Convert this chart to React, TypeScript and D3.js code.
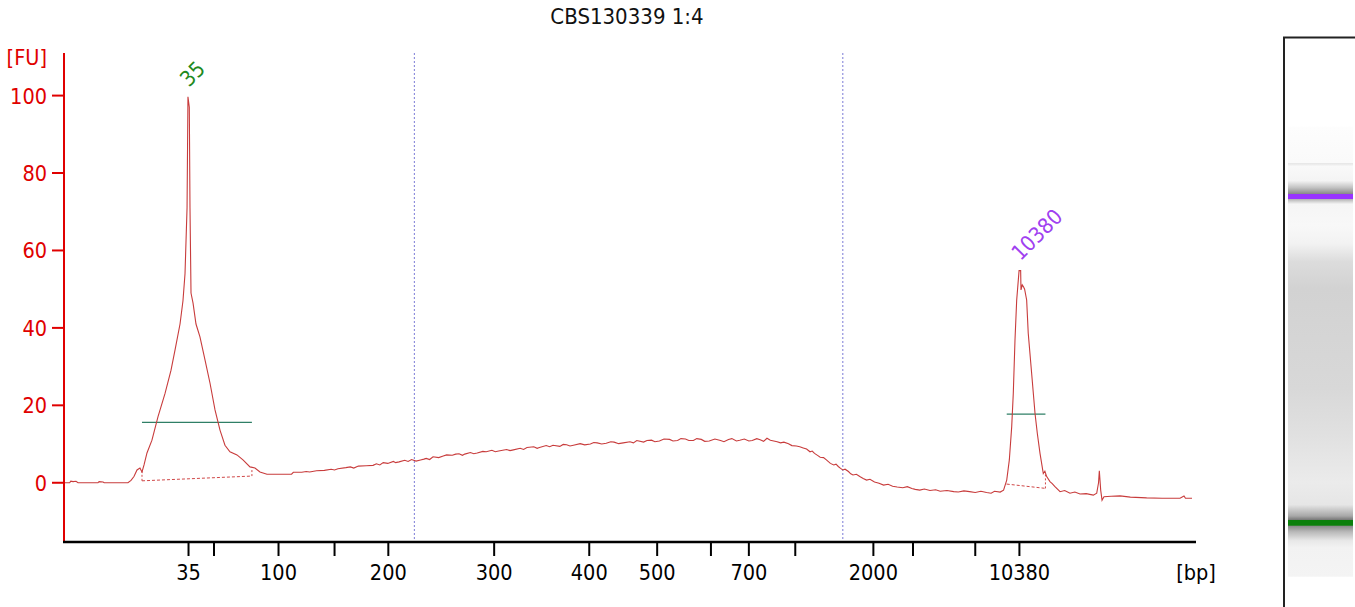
import * as d3 from 'd3'

// Electropherogram of sample CBS130339 1:4 (Bioanalyzer-style), x in migration time (s)
const title = 'CBS130339 1:4'

// ladder positions on the time axis and their size labels (bp); empty = unlabeled tick
const ladderTimes = [31.0, 33.25, 38.95, 43.9, 48.65, 58.0, 66.4, 72.4, 77.15, 80.5, 84.6, 91.5, 95.0, 100.5, 104.4]
const ladderLabels = ['35', '', '100', '', '200', '300', '400', '500', '', '700', '', '2000', '', '', '10380']
const fuTicks = [0, 20, 40, 60, 80, 100]

// region boundaries (dotted)
const regionTimes = [50.95, 88.8]

// trace: [time s, FU]
const trace: [number, number][] = [
  [20.0, 0], [20.5, 0], [20.6, 0.4], [20.8, 0.3], [21.06, 0.4], [21.24, 0], [23.0, 0], [23.1, 0.3],
  [23.45, 0.2], [23.55, 0], [25.65, 0], [25.92, 0.6], [26.18, 1.6], [26.45, 3.3], [26.71, 3.8],
  [26.89, 2.8], [27.07, 4.6], [27.33, 7.7], [27.77, 11.0], [28.3, 17.0], [28.92, 23.0], [29.45, 29.0],
  [29.81, 34.3], [30.25, 41.0], [30.51, 47.0], [30.69, 54.0], [30.87, 71.0], [30.95, 99.7],
  [31.07, 97.0], [31.13, 71.0], [31.22, 49.0], [31.4, 46.4], [31.66, 41.0], [32.01, 37.7],
  [32.46, 31.7], [32.9, 25.7], [33.34, 18.8], [33.78, 13.6], [34.22, 9.7], [34.66, 8.0],
  [35.28, 7.2], [35.81, 5.9], [36.43, 4.1], [36.87, 3.8], [37.31, 2.8], [37.93, 2.2], [39.0, 2.2],
  [40.1, 2.2], [40.26, 2.7], [41.0, 2.7], [41.4, 2.9], [41.7, 2.8], [42.3, 3.1], [43.0, 3.2], [43.6, 3.5],
  [43.9, 3.3], [44.2, 3.6], [44.9, 3.9], [45.3, 4.1], [45.6, 3.8], [46.0, 4.3], [46.7, 4.4], [47.3, 4.5],
  [47.6, 4.9], [47.9, 4.6], [48.2, 5.2], [48.6, 5.0], [49.1, 5.5], [49.3, 5.2], [49.6, 5.4], [50.1, 5.8],
  [50.4, 5.5], [50.7, 6.0], [51.1, 5.6], [51.5, 5.9], [51.8, 6.1], [52.0, 6.3], [52.3, 6.0], [52.6, 6.7],
  [53.1, 6.5], [53.5, 6.9], [53.8, 7.2], [54.3, 7.1], [54.6, 7.4], [54.9, 7.5], [55.2, 7.1], [55.4, 7.4],
  [55.9, 7.8], [56.2, 7.5], [56.5, 7.7], [57.0, 8.1], [57.3, 8.0], [57.8, 8.4], [58.1, 8.0], [58.4, 8.2],
  [59.1, 8.6], [59.4, 8.3], [59.7, 8.5], [60.3, 8.9], [60.6, 8.6], [60.9, 9.1], [61.5, 9.3], [61.8, 8.9],
  [62.0, 9.1], [62.6, 9.6], [62.9, 9.3], [63.2, 9.7], [63.8, 9.4], [64.1, 9.9], [64.4, 9.8], [64.7, 9.5],
  [65.0, 9.7], [65.6, 10.1], [66.0, 9.8], [66.5, 10.0], [66.8, 10.4], [67.1, 10.3], [67.5, 10.0],
  [67.9, 10.2], [68.3, 10.6], [68.6, 10.5], [69.0, 10.1], [69.4, 10.3], [70.0, 10.6], [70.3, 10.3],
  [70.6, 10.9], [71.2, 10.5], [71.5, 10.9], [71.9, 11.0], [72.2, 10.6], [72.6, 10.8], [73.0, 11.3],
  [73.5, 11.2], [73.8, 10.8], [74.2, 10.9], [74.5, 11.4], [74.9, 11.3], [75.2, 10.9], [75.6, 10.9],
  [75.9, 11.4], [76.3, 11.2], [76.6, 10.7], [77.0, 10.8], [77.5, 11.3], [78.0, 10.9], [78.3, 10.6],
  [78.7, 11.2], [79.0, 11.4], [79.4, 10.8], [79.7, 11.0], [80.1, 11.3], [80.5, 10.8], [80.8, 10.9],
  [81.2, 11.4], [81.5, 11.1], [81.8, 10.7], [82.1, 11.5], [82.4, 11.0], [82.7, 10.8], [83.0, 10.6],
  [83.3, 10.3], [83.6, 10.5], [84.0, 10.1], [84.3, 9.6], [84.7, 9.5], [85.0, 9.3], [85.3, 9.0],
  [85.6, 8.7], [85.9, 8.0], [86.1, 8.2], [86.3, 7.6], [86.6, 7.0], [86.8, 6.6], [87.1, 6.5], [87.4, 5.8],
  [87.7, 5.0], [88.0, 4.6], [88.2, 4.8], [88.4, 4.2], [88.6, 3.7], [88.8, 3.3], [89.0, 3.5], [89.3, 2.9],
  [89.5, 2.3], [89.7, 2.0], [90.0, 2.2], [90.3, 1.6], [90.6, 1.1], [90.9, 0.7], [91.2, 0.9], [91.6, 0.2],
  [92.0, -0.1], [92.4, -0.6], [92.8, -0.4], [93.2, -0.9], [93.6, -1.1], [94.1, -1.3], [94.5, -1.0],
  [94.9, -1.5], [95.2, -1.7], [95.6, -1.9], [96.0, -1.6], [96.5, -2.0], [97.0, -1.8], [97.4, -2.2],
  [98.0, -2.0], [98.6, -2.3], [99.0, -2.4], [99.5, -2.1], [100.0, -2.3], [100.5, -2.5], [101.0, -2.2],
  [101.5, -2.5], [101.9, -2.7], [102.2, -2.2], [102.7, -2.4], [103.0, -1.9], [103.28, 0.7], [103.51, 5.9],
  [103.72, 14.5], [103.86, 23.1], [104.01, 36.9], [104.16, 47.2], [104.37, 54.8], [104.51, 54.8],
  [104.54, 49.8], [104.65, 51.1], [104.76, 50.6], [104.86, 50.0], [105.04, 47.2], [105.18, 38.6],
  [105.48, 28.3], [105.78, 17.9], [105.98, 12.8], [106.22, 7.6], [106.51, 2.4], [106.65, 3.0],
  [106.81, 1.6], [107.1, 0.3], [107.3, -0.2], [107.54, -1.0], [107.99, -2.3], [108.4, -2.0],
  [108.87, -2.7], [109.3, -2.4], [109.75, -2.9], [110.3, -2.8], [110.93, -3.2], [111.23, -2.7],
  [111.39, 0], [111.46, 3.1], [111.58, -1.9], [111.7, -4.5], [111.87, -3.6], [112.5, -3.5],
  [113.29, -3.4], [114.2, -3.7], [115.64, -3.9], [117.0, -4.0], [118.59, -4.0], [118.94, -3.4],
  [119.07, -4.0], [119.65, -4.0],
]

// called peaks: label, apex time, apex FU
const peakLabels = ['35', '10380']
const peakTimes = [30.95, 104.4]
const peakFU = [99.7, 54.8]
// peak windows, FU at half height, and integration baseline ends
const peakStart = [26.89, 103.28]
const peakEnd = [36.6, 106.7]
const peakHalf = [15.6, 17.75]
const baseStartFU = [0.5, -0.34]
const baseEndFU = [1.73, -1.45]
const traceAtStart = [3.3, -0.34]
const traceAtEnd = [3.7, 2.5]

const peakColors = ['#1f8a1f', '#a040f0']
const FONT = "Tahoma, 'DejaVu Sans Condensed', 'DejaVu Sans', sans-serif"

export default function App() {
  const W = 1355
  const H = 607
  const left = 64
  const right = 1196
  const top = 53
  const bottom = 542

  const x = d3.scaleLinear().domain([20, 120]).range([left, right])
  const y = d3.scaleLinear().domain([-15.3, 111]).range([bottom, top])

  const line = d3
    .line<[number, number]>()
    .x((d) => x(d[0]))
    .y((d) => y(d[1]))

  // virtual gel lane
  const laneX = 1288
  const laneW = 65
  const laneTop = 126.7
  const laneBottom = 576.7
  const gel = d3.scaleLinear().domain([0, 1]).range([laneTop, laneBottom])
  const gelStops: [number, string][] = [
    [0, '#fdfdfd'], [0.08, '#fafafa'], [0.082, '#e6e6e6'], [0.088, '#f9f9f9'], [0.12, '#f4f4f4'],
    [0.135, '#c4c4c4'], [0.149, '#8a8a8a'], [0.161, '#b4b4b4'], [0.172, '#f5f5f5'], [0.22, '#f8f8f8'],
    [0.26, '#f2f2f2'], [0.3, '#dcdcdc'], [0.36, '#d2d2d2'], [0.58, '#d8d8d8'], [0.68, '#e0e0e0'],
    [0.79, '#ebebeb'], [0.84, '#e6e6e6'], [0.865, '#a8a8a8'], [0.873, '#7c7c7c'], [0.888, '#8c8c8c'],
    [0.9, '#b8b8b8'], [0.92, '#e8e8e8'], [0.935, '#f2f2f2'], [1, '#f4f4f4'],
  ]
  const upperBand = [0.1496, 0.1607]
  const lowerBand = [0.874, 0.8867]

  const fs = 21.5

  return (
    <svg width={W} height={H} style={{ position: 'absolute', left: 0, top: 0, background: '#fff' }} fontFamily={FONT}>
      <style>{'body{margin:0}'}</style>
      <defs>
        <linearGradient id="lane" x1="0" y1="0" x2="0" y2="1">
          {gelStops.map(([o, c], i) => (
            <stop key={i} offset={o} stopColor={c} />
          ))}
        </linearGradient>
      </defs>

      {/* title */}
      <text x={627} y={24} textAnchor="middle" fontSize={22} fill="#111">
        {title}
      </text>

      {/* region markers */}
      {regionTimes.map((t, i) => (
        <line key={i} x1={x(t)} x2={x(t)} y1={top} y2={bottom} stroke="#7b7bd6" strokeWidth={1} strokeDasharray="2,2" />
      ))}

      {/* half-height lines and baselines */}
      {peakLabels.map((_, i) => (
        <g key={i}>
          <line x1={x(peakStart[i])} x2={x(peakEnd[i])} y1={y(peakHalf[i])} y2={y(peakHalf[i])} stroke="#2f7f66" strokeWidth={1.2} />
          <line x1={x(peakStart[i])} x2={x(peakEnd[i])} y1={y(baseStartFU[i])} y2={y(baseEndFU[i])} stroke="#d04848" strokeWidth={1} strokeDasharray="3,2" />
          <line x1={x(peakStart[i])} x2={x(peakStart[i])} y1={y(baseStartFU[i])} y2={y(traceAtStart[i])} stroke="#d04848" strokeWidth={1} strokeDasharray="2,2" />
          <line x1={x(peakEnd[i])} x2={x(peakEnd[i])} y1={y(baseEndFU[i])} y2={y(traceAtEnd[i])} stroke="#d04848" strokeWidth={1} strokeDasharray="2,2" />
        </g>
      ))}

      {/* trace */}
      <path d={line(trace) ?? ''} fill="none" stroke="#c83c3c" strokeWidth={1.1} />

      {/* peak labels */}
      {peakLabels.map((lab, i) => (
        <text
          key={lab}
          transform={`translate(${x(peakTimes[i]) + 1},${y(peakFU[i]) - 9}) rotate(-45)`}
          fontSize={fs}
          fill={peakColors[i]}
        >
          {lab}
        </text>
      ))}

      {/* y axis */}
      <line x1={left} x2={left} y1={top} y2={bottom} stroke="#e00000" strokeWidth={2} />
      {fuTicks.map((v) => (
        <g key={v}>
          <line x1={left - 12} x2={left} y1={y(v)} y2={y(v)} stroke="#e00000" strokeWidth={2} />
          <text x={left - 17} y={y(v) + 8} textAnchor="end" fontSize={fs} fill="#e00000">
            {v}
          </text>
        </g>
      ))}
      <text x={47} y={65} textAnchor="end" fontSize={fs} fill="#e00000">
        [FU]
      </text>

      {/* x axis */}
      <line x1={left - 1} x2={right} y1={bottom} y2={bottom} stroke="#000" strokeWidth={2.5} />
      {ladderTimes.map((t, i) => (
        <g key={i}>
          <line x1={x(t)} x2={x(t)} y1={bottom} y2={bottom + 14} stroke="#000" strokeWidth={2} />
          {ladderLabels[i] && (
            <text x={x(t)} y={580} textAnchor="middle" fontSize={fs} fill="#000">
              {ladderLabels[i]}
            </text>
          )}
        </g>
      ))}
      <text x={right} y={580} textAnchor="middle" fontSize={fs} fill="#000">
        [bp]
      </text>

      {/* gel lane */}
      <rect x={1284} y={37.5} width={100} height={600} fill="#fff" stroke="#222" strokeWidth={2} />
      <rect x={laneX} y={laneTop} width={laneW} height={laneBottom - laneTop} fill="url(#lane)" />
      <rect x={laneX} y={gel(upperBand[0])} width={laneW} height={gel(upperBand[1]) - gel(upperBand[0])} fill="#9933ff" />
      <rect x={laneX} y={gel(lowerBand[0])} width={laneW} height={gel(lowerBand[1]) - gel(lowerBand[0])} fill="#0c800c" />
    </svg>
  )
}
